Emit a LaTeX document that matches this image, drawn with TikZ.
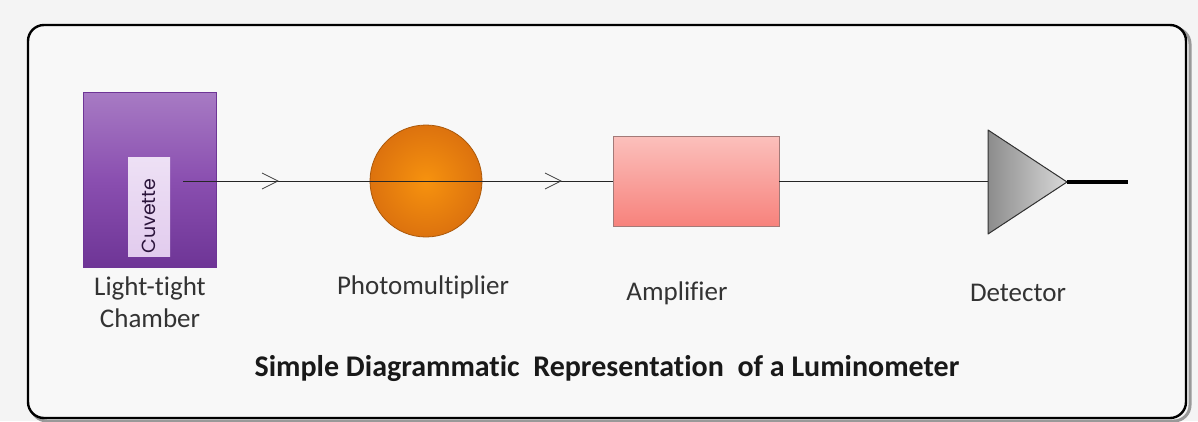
\documentclass[tikz,border=0pt]{standalone}
\usepackage{fontspec}
\setmainfont[Ligatures=NoCommon]{Carlito}
\newfontfamily\cuvfont{Poppins}
\usetikzlibrary{shapes.geometric,arrows.meta,shadows}
\definecolor{bgc}{HTML}{F4F4F4}
\definecolor{inner}{HTML}{F8F8F8}
\definecolor{purp}{HTML}{8A4FB0}
\definecolor{purpd}{HTML}{6E3596}
\definecolor{cuv}{HTML}{E2CCEE}
\definecolor{orng}{HTML}{F57F10}
\definecolor{pinkt}{HTML}{FBC0BC}
\definecolor{pinkb}{HTML}{F7827C}
\definecolor{txt}{HTML}{333333}
\tikzset{
  lbl/.style={font=\fontsize{27}{32}\selectfont, text=txt, align=center, inner sep=0pt},
  sig/.style={draw=black!85, line width=0.8pt},
  chev/.style={draw=black!75, line width=0.8pt},
}
\begin{document}
\begin{tikzpicture}[x=1pt,y=-1pt]
\useasboundingbox (0,0) rectangle (1198,421);
\fill[bgc] (0,0) rectangle (1198,421);
% frame shadow
\draw[black!40, line width=3pt, rounded corners=16pt] (31,28) rectangle (1190,421);
\draw[black, line width=2.4pt, fill=inner, rounded corners=16pt] (28,25) rectangle (1186,418);
% chamber
\node[draw=purpd, line width=0.6pt, top color=purp!75!white, bottom color=purpd, middle color=purp, minimum width=133pt, minimum height=175pt, inner sep=0pt] (chamber) at (149.5,179.5) {};
\node[fill=cuv, top color=cuv!60!white, bottom color=cuv, minimum width=42pt, minimum height=99pt, inner sep=0pt] (cuvette) at (149,206.5) {};
\node[rotate=90, font=\cuvfont\fontsize{19}{20}\selectfont, text=purpd!40!black] at (149,216) {Cuvette};
\coordinate (start) at (183,181);
% photomultiplier
\node[circle, draw=orng!70!black, line width=0.8pt, shading=radial, inner color=orng!85!yellow, outer color=orng!90!black, minimum size=112pt, inner sep=0pt] (pmt) at (426,181) {};
% amplifier
\node[draw=pinkb!50!black!70, line width=0.8pt, top color=pinkt, bottom color=pinkb, minimum width=166pt, minimum height=90pt, inner sep=0pt] (amp) at (696,181) {};
% detector
\coordinate (dt) at (988,130);
\coordinate (db) at (988,234);
\coordinate (dtip) at (1067,182);
\coordinate (din) at (988,181);
\coordinate (dout) at (1128,182);
\draw[sig] (start) -- (pmt.west);
\draw[sig] (pmt.west) -- (pmt.east);
\draw[sig] (pmt.east) -- (amp.west);
\draw[sig] (amp.east) -- (din);
\fill[left color=black!45, right color=black!15] (dt) -- (dtip) -- (db) -- cycle;
\draw[black!80, line width=1pt, line join=round] (dt) -- (dtip) -- (db) -- cycle;
\draw[black, line width=3.5pt] (dtip) -- (dout);
% chevrons
\draw[chev] (262,173) -- (278,181) -- (262,189);
\draw[chev] (545,173) -- (561,181) -- (545,189);
% labels
\node[lbl] (l1) at (150,302) {Light-tight\\Chamber};
\node[lbl] (l2) at (423,287) {Photomultiplier};
\node[lbl] (l3) at (677,293) {Amplifier};
\node[lbl] (l4) at (1018,293) {Detector};
\node[lbl, font=\fontsize{30}{32}\selectfont\bfseries, text=black!90] (title) at (607,369) {Simple Diagrammatic\ \ Representation\ \ of a Luminometer};
\end{tikzpicture}
\end{document}
